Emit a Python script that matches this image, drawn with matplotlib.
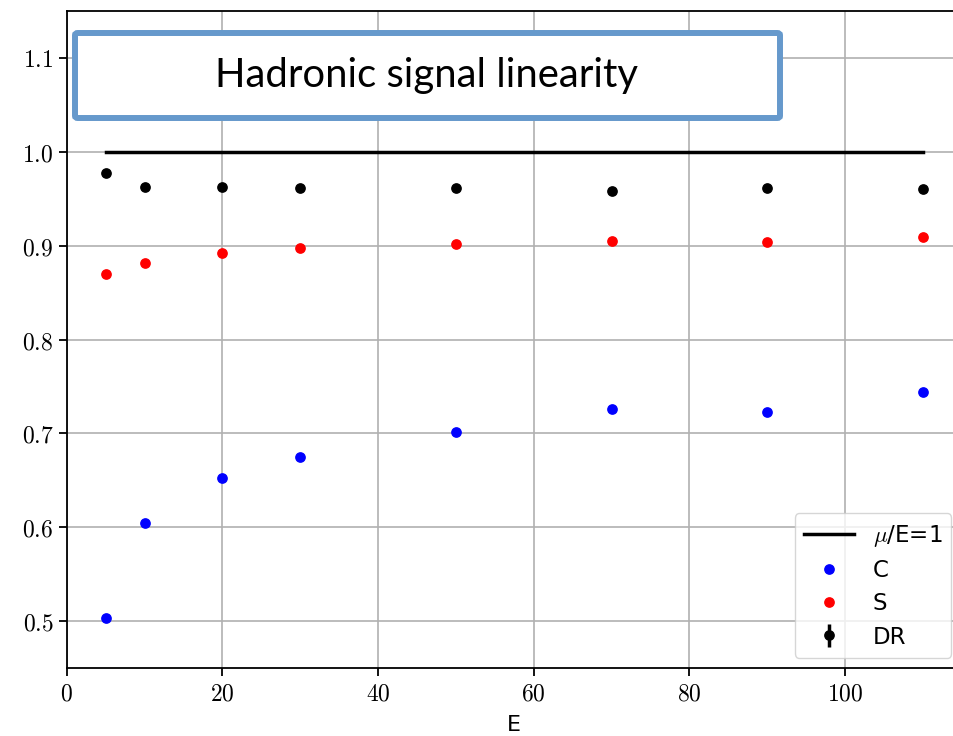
import matplotlib
matplotlib.use("Agg")
import matplotlib.pyplot as plt
from matplotlib.patches import FancyBboxPatch
from matplotlib.ticker import FuncFormatter

plt.rcParams['mathtext.fontset'] = 'cm'

energies = [5, 10, 20, 30, 50, 70, 90, 110]
c_resp = [0.503, 0.605, 0.652, 0.675, 0.701, 0.726, 0.723, 0.744]
s_resp = [0.870, 0.882, 0.892, 0.897, 0.902, 0.905, 0.904, 0.909]
dr_resp = [0.977, 0.962, 0.963, 0.961, 0.961, 0.958, 0.961, 0.960]
dr_err = [0.001] * 8
line_x = [5, 110]
line_y = [1.0, 1.0]
title_text = "Hadronic signal linearity"

fig = plt.figure(figsize=(9.54, 7.36), dpi=100)
W, H = 954, 736
ax = fig.add_axes([66.7 / W, (H - 668) / H, (961.8 - 66.7) / W, (668 - 11) / H])

ax.grid(True, color='#b0b0b0', linewidth=1.2, zorder=0)
ax.set_axisbelow(True)

ax.plot(line_x, line_y, color='black', linewidth=2.5, label=r'$\mu$/E=1', zorder=3)
ax.plot(energies, c_resp, 'o', color='blue', ms=6.7, label='C', zorder=3)
ax.plot(energies, s_resp, 'o', color='red', ms=6.7, label='S', zorder=3)
ax.errorbar(energies, dr_resp, yerr=dr_err, fmt='o', color='black', ms=6.7,
            elinewidth=2.5, label='DR', zorder=3)

ax.set_xlim(0, 115)
ax.set_ylim(0.45, 1.15)
ax.set_xticks([0, 20, 40, 60, 80, 100])
ax.set_yticks([0.5, 0.6, 0.7, 0.8, 0.9, 1.0, 1.1])
ax.xaxis.set_major_formatter(FuncFormatter(lambda v, p: r'$%d$' % v))
ax.yaxis.set_major_formatter(FuncFormatter(lambda v, p: r'$%.1f$' % v))
ax.tick_params(labelsize=17, length=6, width=1.3)
for s in ax.spines.values():
    s.set_linewidth(1.3)
ax.set_xlabel('E', fontsize=16, labelpad=7)

leg = ax.legend(loc='lower right', fontsize=16.5, handlelength=2.2, borderaxespad=0.45,
                labelspacing=0.45)

# title box overlay
box = FancyBboxPatch((75 / W, (H - 118) / H), (780 - 75) / W, (118 - 33) / H,
                     boxstyle='round,pad=0,rounding_size=0.003', transform=fig.transFigure,
                     facecolor='white', edgecolor='#6699cc', linewidth=4.3, zorder=10)
fig.patches.append(box)
fig.text(427 / W, (H - 76) / H, title_text, ha='center', va='center',
         fontsize=28.8, family='Lato', color='black', zorder=11)

fig.savefig('out.png', dpi=100)
